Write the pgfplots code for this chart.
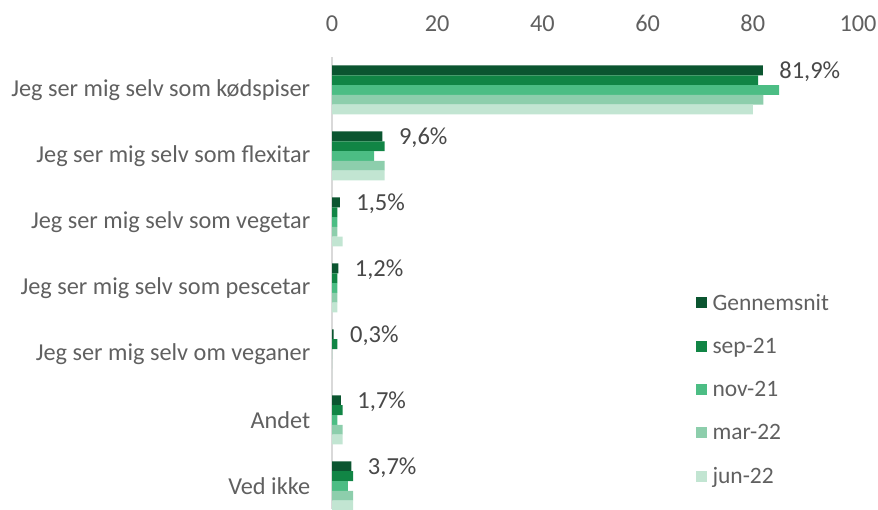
\documentclass[border=0pt]{standalone}
\usepackage{pgfplots}
\pgfplotsset{compat=1.18}
\usepackage{fontspec}
\setmainfont{Carlito}
\definecolor{cA}{RGB}{11,85,48}
\definecolor{cB}{RGB}{17,133,69}
\definecolor{cC}{RGB}{76,189,132}
\definecolor{cD}{RGB}{141,206,172}
\definecolor{cE}{RGB}{194,229,210}
\definecolor{txt}{RGB}{96,96,96}
\definecolor{lbl}{RGB}{72,72,72}
\begin{document}
\begin{tikzpicture}
\begin{axis}[
  at={(332pt,0pt)}, anchor=south west,
  scale only axis, width=526pt, height=452pt,
  xbar, bar width=9.8pt,
  xmin=0, xmax=100, ymin=-0.5, ymax=6.35,
  y dir=reverse,
  xtick={0,20,40,60,80,100},
  xticklabel pos=top,
  ytick={0,1,2,3,4,5,6},
  yticklabels={Jeg ser mig selv som kødspiser,Jeg ser mig selv som flexitar,Jeg ser mig selv som vegetar,Jeg ser mig selv som pescetar,Jeg ser mig selv om veganer,Andet,Ved ikke},
  tick style={draw=none},
  axis x line*=top, axis y line*=left,
  x axis line style={draw=none},
  y axis line style={draw={rgb,255:red,217;green,217;blue,217}, line width=1.5pt},
  tick label style={font=\fontsize{24.3}{28}\selectfont, text=txt},
  /pgf/number format/assume math mode=true,
  yticklabel style={xshift=-14pt},
  xticklabel style={yshift=22pt},
  legend style={draw=none, at={(0.685,0.485)}, anchor=north west, font=\fontsize{23.5}{28}\selectfont, text=txt, row sep=22.4pt, legend cell align=left, fill=none,
    /tikz/every even column/.append style={column sep=0pt}},
  legend image code/.code={\fill[#1] (0pt,-5.5pt) rectangle (11.5pt,5.5pt); \path (15pt,0pt);},
  clip=false,
]
\addplot[fill=cA, draw=none, bar shift=19.6pt,
  nodes near coords={\pgfmathprintnumber[use comma,fixed,fixed zerofill,precision=1]{\pgfplotspointmeta}\%},
  nodes near coords style={font=\fontsize{24.5}{28}\selectfont, text=lbl, anchor=west, xshift=13pt, yshift=-1pt},
  point meta=x] coordinates {(81.9,0) (9.6,1) (1.5,2) (1.2,3) (0.3,4) (1.7,5) (3.7,6)};
\addplot[fill=cB, draw=none, bar shift=9.8pt] coordinates {(81,0) (10,1) (1,2) (1,3) (1,4) (2,5) (4,6)};
\addplot[fill=cC, draw=none, bar shift=0pt] coordinates {(85,0) (8,1) (1,2) (1,3) (0,4) (1,5) (3,6)};
\addplot[fill=cD, draw=none, bar shift=-9.8pt] coordinates {(82,0) (10,1) (1,2) (1,3) (0,4) (2,5) (4,6)};
\addplot[fill=cE, draw=none, bar shift=-19.6pt] coordinates {(80,0) (10,1) (2,2) (1,3) (0,4) (2,5) (4,6)};
\legend{Gennemsnit,sep-21,nov-21,mar-22,jun-22}
\end{axis}
\pgfresetboundingbox
\path[use as bounding box] (0,0) rectangle (878pt,509pt);
\end{tikzpicture}
\end{document}
